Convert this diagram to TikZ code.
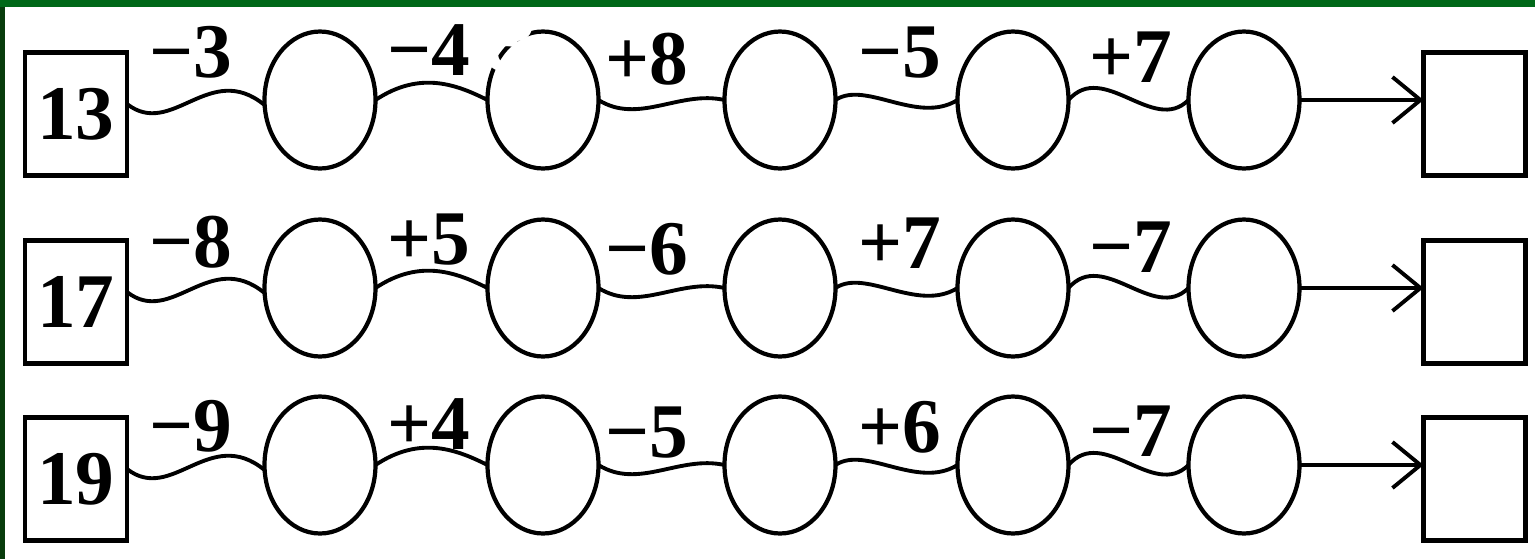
\documentclass[tikz,border=0pt]{standalone}
\usepackage{fontspec}
\setmainfont{Liberation Serif}
\newfontfamily\marksans{Liberation Sans}
\usepackage{tikz}
\usetikzlibrary{arrows.meta, shapes.geometric, calc}
\definecolor{bargreen}{RGB}{0,104,24}
\definecolor{edgegreen}{RGB}{8,60,12}

\begin{document}
\begin{tikzpicture}[
    numbox/.style={draw, line width=1.4pt, minimum width=1.02cm, minimum height=1.23cm,
        inner sep=0pt, outer sep=0pt, font=\fontsize{22}{26}\selectfont\bfseries},
    blank/.style={draw, ellipse, line width=1.2pt, minimum width=1.11cm, minimum height=1.37cm,
        inner sep=0pt, outer sep=0pt},
    oplabel/.style={font=\fontsize{22}{26}\selectfont\bfseries, inner sep=0pt},
    wave/.style={line width=1.1pt}]

    % Page and frame
    \useasboundingbox (0,0) rectangle (15.35,5.59);
    \fill[white] (0,0) rectangle (15.35,5.59);
    \fill[bargreen] (0,5.52) rectangle (15.35,5.59);
    \fill[edgegreen] (0,0) rectangle (0.05,5.52);

    % Rows: start number, then the five steps
    \foreach \r/\yy/\lo/\num/\la/\lb/\lc/\ld/\le in {1/4.59/0.46/13/−3/−4/+8/−5/+7,
                                                      2/2.71/0.44/17/−8/+5/−6/+7/−7,
                                                      3/0.94/0.37/19/−9/+4/−5/+6/−7}{
        \node[numbox] (s\r) at (0.76,\yy-0.14) {\num};
        \foreach \x [count=\i] in {3.20,5.43,7.80,10.13,12.44}
            \node[blank] (e\r\i) at (\x,\yy) {};
        \node[numbox] (f\r) at (14.745,\yy-0.14) {};

        % wavy steps
        \draw[wave] ([yshift=0.1cm]s\r.east) .. controls +(0.45,-0.35) and +(-0.55,0.45) .. ([yshift=-0.05cm]e\r1.west);
        \draw[wave] (e\r1.east) .. controls +(0.45,0.3) and +(-0.3,0.15) .. (e\r2.west);
        \draw[wave] (e\r2.east) .. controls +(0.4,-0.25) and +(-0.45,0.1) .. (e\r3.west);
        \draw[wave] (e\r3.east) .. controls +(0.3,0.2) and +(-0.4,-0.25) .. (e\r4.west);
        \draw[wave] (e\r4.east) .. controls +(0.35,0.4) and +(-0.35,-0.35) .. (e\r5.west);

        % step labels
        \foreach \lab/\x/\dy [count=\j] in {\la/1.91/0.02, \lb/4.29/0.04, \lc/6.47/-0.05,
                                            \ld/9.00/0.01, \le/11.31/-0.03}
            \node[oplabel] (o\r\j) at (\x,\yy+\lo+\dy) {\lab};

        % result arrow
        \draw[wave, -{Straight Barb[length=0.28cm, width=0.46cm]}] (e\r5.east) -- (e\r5.east -| f\r.west);
    }

    % white mark over the second circle
    \node[text=white, inner sep=0pt, font=\marksans\fontsize{24}{24}\selectfont\bfseries\itshape] (smudge) at (5.10,5.17) {3};
\end{tikzpicture}
\end{document}
